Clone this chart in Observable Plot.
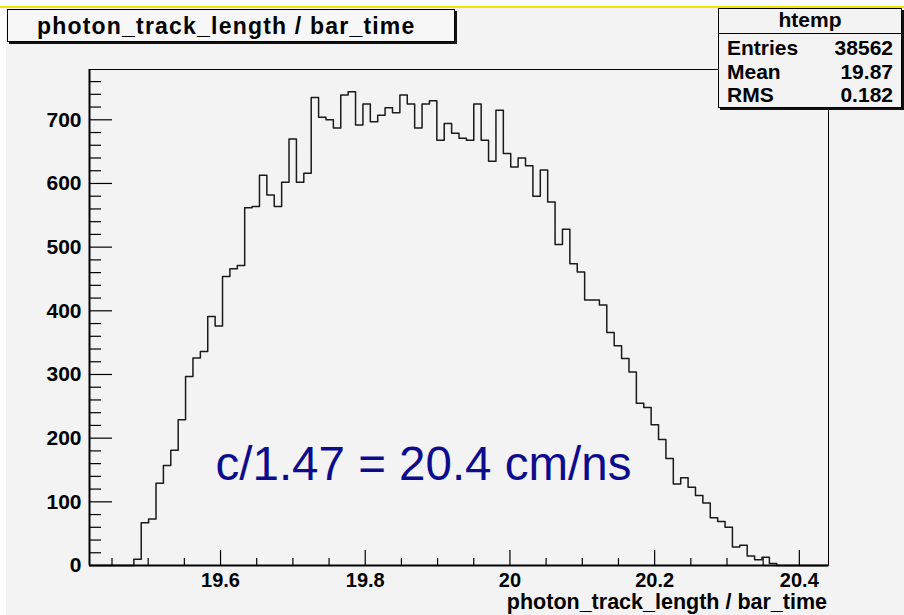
<!DOCTYPE html>
<html><head><meta charset="utf-8">
<script src="https://cdn.jsdelivr.net/npm/d3@7"></script>
<script src="https://cdn.jsdelivr.net/npm/@observablehq/plot@0.6"></script>
<style>
html,body{margin:0;padding:0;background:#fff;}
#wrap{position:relative;width:904px;height:615px;overflow:hidden;font-family:"Liberation Sans",Arial,Helvetica,sans-serif;}
#bg{position:absolute;left:6px;top:8px;right:0;bottom:0;background:#f3f3f3;}
#yline{position:absolute;left:0;top:6px;width:904px;height:2px;background:#f0e400;}
#chart{position:absolute;left:0;top:0;}
.box{position:absolute;border:1px solid #000;box-sizing:border-box;box-shadow:2px 2px 0 0 #111;}
.t{position:absolute;font-weight:bold;white-space:nowrap;line-height:1;color:#000;}
</style></head><body>
<div id="wrap">
  <div id="bg"></div>
  <div id="yline"></div>
  <div id="chart"></div>
</div>
<script>
// ---- data ----
const histTitle = "photon_track_length / bar_time";
const xAxisTitle = "photon_track_length / bar_time";
const annotationText = "c/1.47 = 20.4 cm/ns";
const xMin = 19.4189;
const binWidth = 0.010214;
const binCounts = [
  0, 0, 0, 0, 0, 0, 10, 67, 73, 129,
  157, 181, 229, 297, 326, 336, 391, 376, 454, 466,
  471, 562, 564, 613, 582, 564, 602, 670, 602, 616,
  735, 704, 700, 687, 739, 744, 692, 725, 697, 707,
  719, 711, 739, 725, 687, 725, 730, 668, 694, 679,
  671, 668, 725, 668, 635, 715, 647, 626, 640, 628,
  580, 621, 571, 504, 528, 474, 461, 417, 417, 409,
  366, 345, 325, 304, 255, 248, 221, 198, 168, 128,
  138, 123, 110, 98, 75, 69, 60, 29, 32, 15,
  9, 13, 3, 0, 0, 0, 0, 0, 0, 0
];
const yTop = 779;
const xMajorTicks = [19.6, 19.8, 20.0, 20.2, 20.4];
const xTickLabels = ["19.6", "19.8", "20", "20.2", "20.4"];
const xMinorTicks = [19.45, 19.5, 19.55, 19.65, 19.7, 19.75, 19.85, 19.9, 19.95, 20.05, 20.1, 20.15, 20.25, 20.3, 20.35];
const yMajorTicks = [0, 100, 200, 300, 400, 500, 600, 700];
const yMinorTicks = [20, 40, 60, 80, 120, 140, 160, 180, 220, 240, 260, 280, 320, 340, 360, 380,
  420, 440, 460, 480, 520, 540, 560, 580, 620, 640, 660, 680, 720, 740, 760];
const statsName = "htemp";
const statsLabels = ["Entries", "Mean", "RMS"];
const statsValues = ["38562", "19.87", "0.182"];

// ---- layout ----
const W = 904, H = 615, mL = 89, mR = 76, mT = 69, mB = 50;
const frameW = W - mL - mR, frameH = H - mT - mB;

const steps = binCounts.map((v, i) => ({x: xMin + i * binWidth, y: v}));
steps.push({x: xMin + binCounts.length * binWidth, y: binCounts[binCounts.length - 1]});

const chart = Plot.plot({
  width: W, height: H,
  marginLeft: mL, marginRight: mR, marginTop: mT, marginBottom: mB,
  x: {domain: [xMin, xMin + binCounts.length * binWidth]},
  y: {domain: [0, yTop]},
  style: {background: "transparent", fontFamily: "Liberation Sans, Arial, sans-serif", overflow: "visible"},
  marks: [
    Plot.frame({stroke: "#000", strokeWidth: 1}),
    Plot.line(steps, {x: "x", y: "y", curve: "step-after", stroke: "#1a1a1a", strokeWidth: 1.5}),
    Plot.ruleX(xMajorTicks, {stroke: "#000", strokeWidth: 1.2, insetTop: frameH - 15}),
    Plot.ruleX(xMinorTicks, {stroke: "#000", strokeWidth: 1.2, insetTop: frameH - 7}),
    Plot.ruleY(yMajorTicks, {stroke: "#000", strokeWidth: 1.2, insetRight: frameW - 23}),
    Plot.ruleY(yMinorTicks, {stroke: "#000", strokeWidth: 1.2, insetRight: frameW - 12}),
    Plot.ruleY([0], {stroke: "#000", strokeWidth: 2}),
    Plot.ruleX([xMin], {stroke: "#000", strokeWidth: 2}),
    Plot.axisX(xMajorTicks, {tickSize: 0, tickPadding: 7, fontSize: 20, fontWeight: "bold", fill: "#000",
      tickFormat: d => xTickLabels[xMajorTicks.indexOf(d)], label: null}),
    Plot.axisY(yMajorTicks, {tickSize: 0, tickPadding: 8, fontSize: 21, fontWeight: "bold", fill: "#000", label: null}),
    Plot.text([annotationText], {x: () => 19.5931, y: () => 158.6, text: d => d, textAnchor: "start",
      lineAnchor: "middle", fontSize: 47.5, fill: "#0c0c8c"})
  ]
});
document.getElementById("chart").appendChild(chart);

// ---- overlays: title box, stats box, x axis title ----
const wrap = document.getElementById("wrap");
function el(tag, cls, css, txt) {
  const e = document.createElement(tag);
  if (cls) e.className = cls;
  Object.assign(e.style, css);
  if (txt != null) e.textContent = txt;
  wrap.appendChild(e);
  return e;
}
// title box
el("div", "box", {left: "7px", top: "9px", width: "448px", height: "33px", background: "#f7f7f7"});
el("div", "t", {left: "37px", top: "14.5px", fontSize: "23px", letterSpacing: "1.2px"}, histTitle);
// stats box
el("div", "box", {left: "718px", top: "8px", width: "184px", height: "100px", background: "#f3f3f3"});
el("div", "", {position: "absolute", left: "718px", top: "33px", width: "184px", height: "1px", background: "#000"});
el("div", "t", {left: "718px", width: "184px", textAlign: "center", top: "9.4px", fontSize: "21px"}, statsName);
const baselines = [54.3, 78.3, 101.7];
statsLabels.forEach((lab, i) => {
  el("div", "t", {left: "727px", top: (baselines[i] - 17.8) + "px", fontSize: "21px"}, lab);
  el("div", "t", {right: (904 - 893) + "px", top: (baselines[i] - 17.8) + "px", fontSize: "21px"}, statsValues[i]);
});
// x axis title
el("div", "t", {right: (904 - 827) + "px", top: (610 - 18.2) + "px", fontSize: "21.5px"}, xAxisTitle);
</script>
</body></html>
